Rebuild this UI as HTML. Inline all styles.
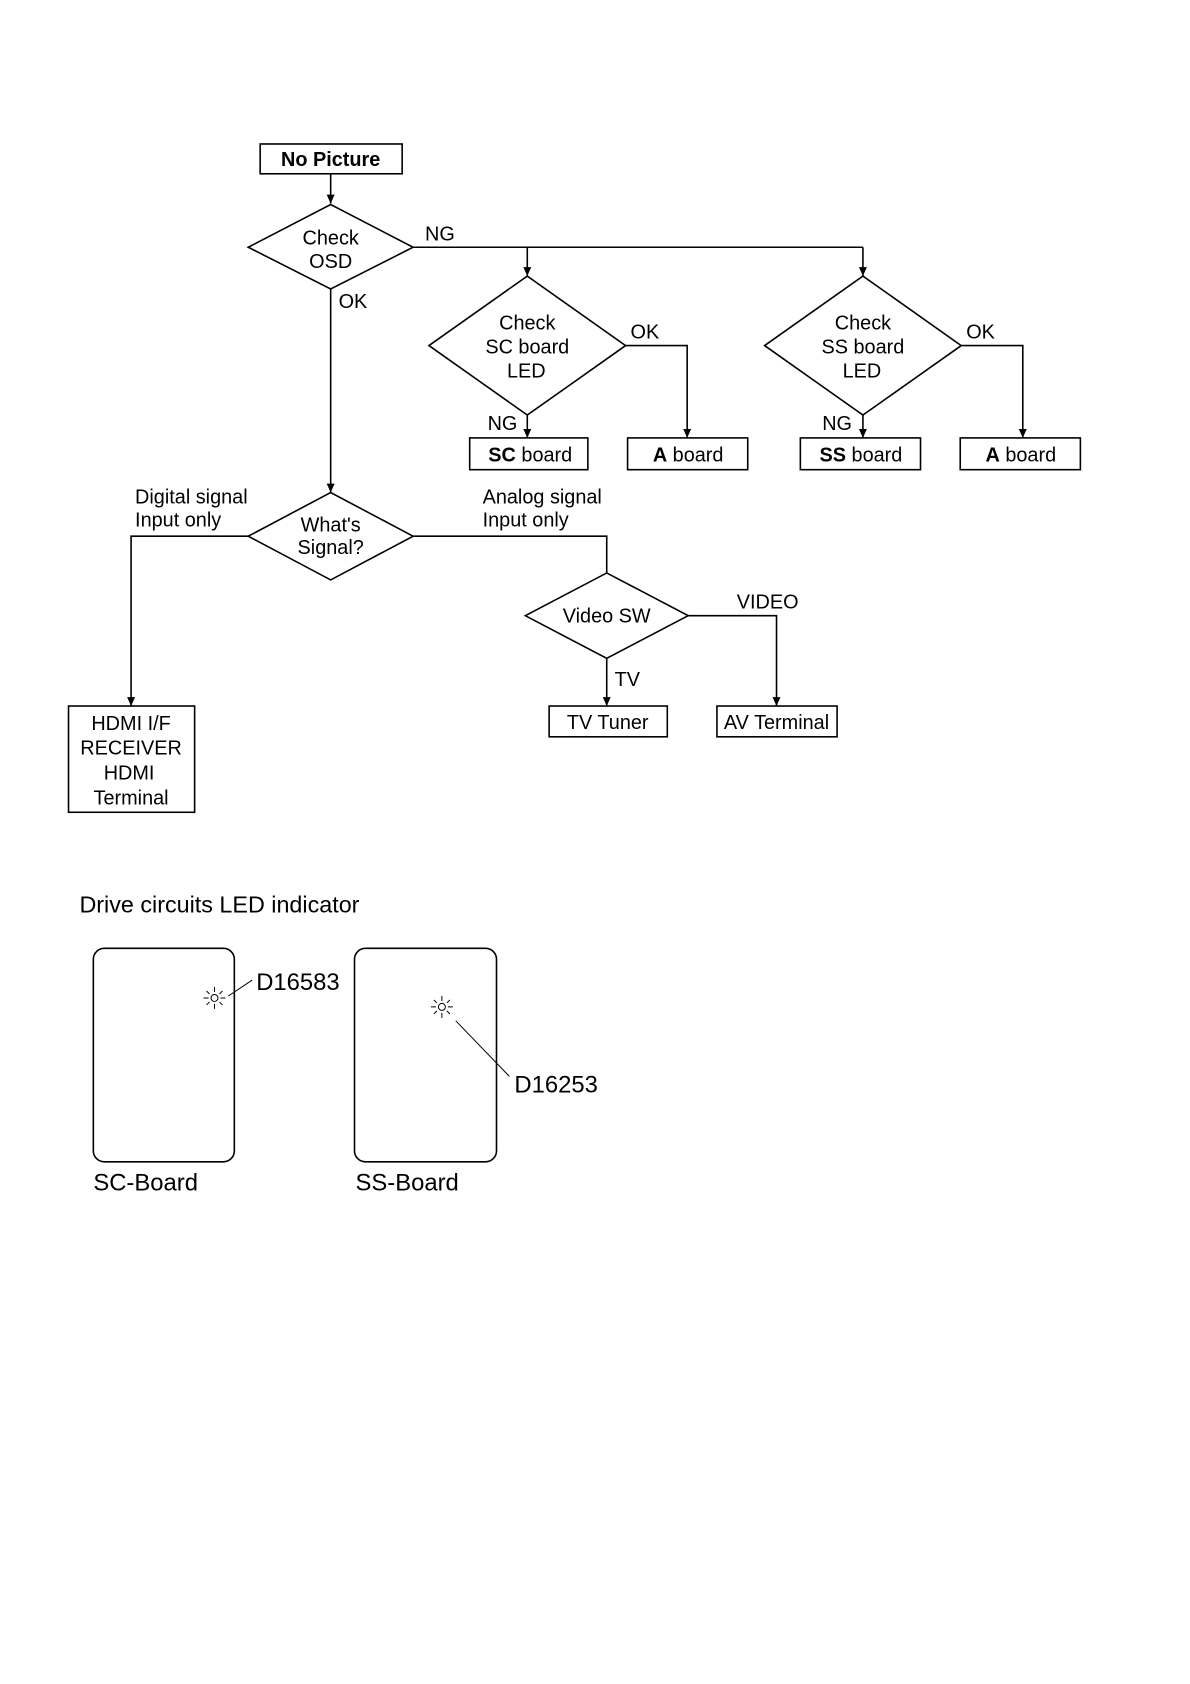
<!DOCTYPE html>
<html><head><meta charset="utf-8"><style>
html,body{margin:0;padding:0;background:#fff;}
svg{display:block;}
text{font-family:"Liberation Sans",Arial,sans-serif;font-size:20px;fill:#000;}
</style></head><body>
<svg width="1190" height="1684" viewBox="0 0 1190 1684" xmlns="http://www.w3.org/2000/svg">
<defs><marker id="a" markerWidth="10" markerHeight="10" refX="9" refY="5" orient="auto" markerUnits="userSpaceOnUse"><path d="M0,1 L9,5 L0,9 Z" fill="#000"/></marker></defs>
<g transform="scale(0.993)">
<g fill="none" stroke="#000" stroke-width="1.6">
<rect x="262" y="145" width="143" height="30"/>
<line x1="333" y1="175" x2="333" y2="205" marker-end="url(#a)"/>
<polygon points="250,249 333,206 416,249 333,291"/>
<polyline points="416,249 869,249"/>
<line x1="531" y1="249" x2="531" y2="278" marker-end="url(#a)"/>
<line x1="869" y1="249" x2="869" y2="278" marker-end="url(#a)"/>
<polygon points="432,348 531,278 630,348 531,418"/>
<polygon points="770,348 869,278 968,348 869,418"/>
<line x1="531" y1="418" x2="531" y2="441" marker-end="url(#a)"/>
<line x1="869" y1="418" x2="869" y2="441" marker-end="url(#a)"/>
<polyline points="630,348 692,348 692,441" marker-end="url(#a)"/>
<polyline points="968,348 1030,348 1030,441" marker-end="url(#a)"/>
<rect x="473" y="441" width="119" height="32"/>
<rect x="632" y="441" width="121" height="32"/>
<rect x="806" y="441" width="121" height="32"/>
<rect x="967" y="441" width="121" height="32"/>
<line x1="333" y1="291" x2="333" y2="496" marker-end="url(#a)"/>
<polygon points="250,540 333,496 416,540 333,584"/>
<polyline points="250,540 132,540 132,711" marker-end="url(#a)"/>
<polyline points="416,540 611,540 611,577"/>
<polygon points="529,620 611,577 693,620 611,663"/>
<line x1="611" y1="663" x2="611" y2="711" marker-end="url(#a)"/>
<polyline points="693,620 782,620 782,711" marker-end="url(#a)"/>
<rect x="69" y="711" width="127" height="107"/>
<rect x="553" y="711" width="119" height="31"/>
<rect x="722" y="711" width="121" height="31"/>
<rect x="94" y="955" width="142" height="215" rx="11"/>
<rect x="357" y="955" width="143" height="215" rx="11"/>
</g>
<g stroke="#000" stroke-width="1" fill="none">
<circle cx="216" cy="1005" r="3.5"/>
<path d="M216,994v5M216,1011v5M205,1005h5M222,1005h5M208,998l3,3M221,1009l3,3M208,1012l3,-3M221,1001l3,-3"/>
<line x1="230" y1="1003" x2="254" y2="987"/>
<circle cx="445" cy="1014" r="3.5"/>
<path d="M445,1003v5M445,1020v5M434,1014h5M451,1014h5M437,1007l3,3M450,1018l3,3M437,1021l3,-3M450,1010l3,-3"/>
<line x1="459" y1="1028" x2="513" y2="1084"/>
</g>
<text x="333" y="167" text-anchor="middle" font-weight="bold">No Picture</text>
<text x="333" y="246" text-anchor="middle">Check</text>
<text x="333" y="270" text-anchor="middle">OSD</text>
<text x="428" y="242">NG</text>
<text x="341" y="310">OK</text>
<text x="531" y="332" text-anchor="middle">Check</text>
<text x="531" y="356" text-anchor="middle">SC board</text>
<text x="530" y="380" text-anchor="middle">LED</text>
<text x="869" y="332" text-anchor="middle">Check</text>
<text x="869" y="356" text-anchor="middle">SS board</text>
<text x="868" y="380" text-anchor="middle">LED</text>
<text x="635" y="341">OK</text>
<text x="973" y="341">OK</text>
<text x="491" y="433">NG</text>
<text x="828" y="433">NG</text>
<text x="534" y="465" text-anchor="middle"><tspan font-weight="bold">SC</tspan> board</text>
<text x="693" y="465" text-anchor="middle"><tspan font-weight="bold">A</tspan> board</text>
<text x="867" y="465" text-anchor="middle"><tspan font-weight="bold">SS</tspan> board</text>
<text x="1028" y="465" text-anchor="middle"><tspan font-weight="bold">A</tspan> board</text>
<text x="136" y="507">Digital signal</text>
<text x="136" y="530">Input only</text>
<text x="486" y="507">Analog signal</text>
<text x="486" y="530">Input only</text>
<text x="333" y="535" text-anchor="middle">What's</text>
<text x="333" y="558" text-anchor="middle">Signal?</text>
<text x="611" y="627" text-anchor="middle">Video SW</text>
<text x="742" y="613">VIDEO</text>
<text x="619" y="691">TV</text>
<text x="132" y="735" text-anchor="middle">HDMI I/F</text>
<text x="132" y="760" text-anchor="middle">RECEIVER</text>
<text x="130" y="785" text-anchor="middle">HDMI</text>
<text x="132" y="810" text-anchor="middle">Terminal</text>
<text x="612" y="734" text-anchor="middle">TV Tuner</text>
<text x="782" y="734" text-anchor="middle">AV Terminal</text>
<text x="80" y="919" style="font-size:23.5px">Drive circuits LED indicator</text>
<text x="258" y="997" style="font-size:24px">D16583</text>
<text x="518" y="1100" style="font-size:24px">D16253</text>
<text x="94" y="1199" style="font-size:24px">SC-Board</text>
<text x="358" y="1199" style="font-size:24px">SS-Board</text>
</g>
</svg>
</body></html>
